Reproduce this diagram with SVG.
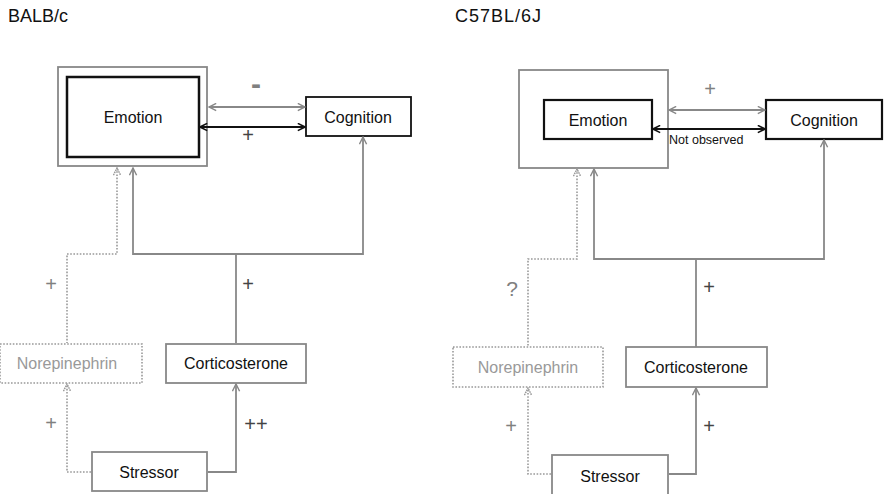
<svg xmlns="http://www.w3.org/2000/svg" width="886" height="494" viewBox="0 0 886 494">
<defs>
<style>
text{font-family:"Liberation Sans",Arial,sans-serif}
.title{font-size:18px;fill:#111}
.lbl{font-size:16px;fill:#111;text-anchor:middle}
.ne{font-size:16px;fill:#999;text-anchor:middle}
.sign{font-size:20px;fill:#808080;text-anchor:middle}
.signd{font-size:20px;fill:#444444;text-anchor:middle}
.box{fill:#fff;stroke:#888;stroke-width:1.8}
.obox{fill:none;stroke:#888;stroke-width:1.8}
.bbox{fill:#fff;stroke:#111;stroke-width:2.5}
.dbox{fill:#fff;stroke:#999;stroke-width:1.6;stroke-dasharray:1.6 1.6}
.g{fill:none;stroke:#888;stroke-width:1.8}
.k{fill:none;stroke:#111;stroke-width:1.8}
.d{fill:none;stroke:#999;stroke-width:1.6;stroke-dasharray:1.6 1.6}
</style>
<marker id="ag" viewBox="0 0 10 10" refX="9" refY="5" markerWidth="9" markerHeight="9" markerUnits="userSpaceOnUse" orient="auto-start-reverse"><path d="M1,1 L9,5 L1,9" fill="none" stroke="#888" stroke-width="1.6"/></marker>
<marker id="ak" viewBox="0 0 10 10" refX="9" refY="5" markerWidth="9" markerHeight="9" markerUnits="userSpaceOnUse" orient="auto-start-reverse"><path d="M1,1 L9,5 L1,9" fill="none" stroke="#111" stroke-width="1.8"/></marker>
<marker id="ad" viewBox="0 0 10 10" refX="9" refY="5" markerWidth="9" markerHeight="9" markerUnits="userSpaceOnUse" orient="auto-start-reverse"><path d="M1,1 L9,5 L1,9" fill="none" stroke="#999" stroke-width="1.6" stroke-dasharray="1.8 0.8"/></marker>
</defs>
<rect width="886" height="494" fill="#fff"/>

<text class="title" x="8" y="22">BALB/c</text>
<text class="title" x="455" y="22" textLength="86">C57BL/6J</text>

<!-- left panel nodes -->
<g id="emotion-l">
<rect class="obox" x="58" y="67" width="149" height="99"/>
<rect class="bbox" x="67" y="77" width="132" height="80"/>
<text class="lbl" x="133" y="123">Emotion</text>
</g>
<g id="cognition-l">
<rect class="bbox" x="306" y="97" width="105" height="39" style="stroke-width:1.8"/>
<text class="lbl" x="358" y="123">Cognition</text>
</g>
<g id="norepinephrin-l">
<rect class="dbox" x="0" y="344" width="142" height="39"/>
<text class="ne" x="67" y="369">Norepinephrin</text>
</g>
<g id="corticosterone-l">
<rect class="box" x="166" y="344" width="140" height="39"/>
<text class="lbl" x="236" y="369">Corticosterone</text>
</g>
<g id="stressor-l">
<rect class="box" x="92" y="452" width="115" height="39"/>
<text class="lbl" x="149" y="478">Stressor</text>
</g>

<!-- right panel nodes -->
<g id="emotion-r">
<rect class="obox" x="519" y="70" width="149" height="98"/>
<rect class="bbox" x="544" y="100" width="108" height="39" style="stroke-width:2.2"/>
<text class="lbl" x="598" y="126">Emotion</text>
</g>
<g id="cognition-r">
<rect class="bbox" x="766" y="100" width="116" height="39" style="stroke-width:2.2"/>
<text class="lbl" x="824" y="126">Cognition</text>
</g>
<g id="norepinephrin-r">
<rect class="dbox" x="453" y="347" width="150" height="40"/>
<text class="ne" x="528" y="373">Norepinephrin</text>
</g>
<g id="corticosterone-r">
<rect class="box" x="626" y="347" width="141" height="40"/>
<text class="lbl" x="696" y="373">Corticosterone</text>
</g>
<g id="stressor-r">
<rect class="box" x="552" y="455" width="116" height="42"/>
<text class="lbl" x="610" y="482">Stressor</text>
</g>

<g id="connectors">
<!-- left panel -->
<line class="g" x1="209" y1="107" x2="305" y2="107" marker-start="url(#ag)" marker-end="url(#ag)"/>
<line class="k" x1="200" y1="127" x2="305" y2="127" marker-start="url(#ak)" marker-end="url(#ak)"/>
<path class="g" d="M133,168 V254 H363 V137" marker-start="url(#ag)" marker-end="url(#ag)"/>
<path class="g" d="M236,254 V343"/>
<path class="d" d="M117,168 V254 H67 V343" marker-start="url(#ad)"/>
<path class="d" d="M91,472 H67 V384" marker-end="url(#ad)"/>
<path class="g" d="M208,472 H236 V384" marker-end="url(#ag)"/>
<!-- right panel -->
<line class="g" x1="669" y1="110" x2="765" y2="110" marker-start="url(#ag)" marker-end="url(#ag)"/>
<line class="k" x1="653" y1="129" x2="765" y2="129" marker-start="url(#ak)" marker-end="url(#ak)"/>
<path class="g" d="M594,169 V259 H824 V140" marker-start="url(#ag)" marker-end="url(#ag)"/>
<path class="g" d="M696,259 V347"/>
<path class="d" d="M577,169 V259 H528 V347" marker-start="url(#ad)"/>
<path class="d" d="M551,474 H528 V388" marker-end="url(#ad)"/>
<path class="g" d="M669,474 H696 V388" marker-end="url(#ag)"/>
</g>

<g id="labels">
<text class="sign" x="256" y="94" style="font-size:30px;font-weight:bold">-</text>
<text class="signd" x="248" y="142">+</text>
<text class="sign" x="51" y="291">+</text>
<text class="signd" x="248" y="291">+</text>
<text class="sign" x="51" y="430">+</text>
<text class="signd" x="256" y="431">++</text>
<text class="sign" x="710" y="96">+</text>
<text x="669" y="144" style="font-size:12.5px;fill:#111">Not observed</text>
<text class="sign" x="512" y="296" style="font-size:21px">?</text>
<text class="signd" x="709" y="294">+</text>
<text class="sign" x="511" y="433">+</text>
<text class="signd" x="709" y="433">+</text>
</g>
</svg>
